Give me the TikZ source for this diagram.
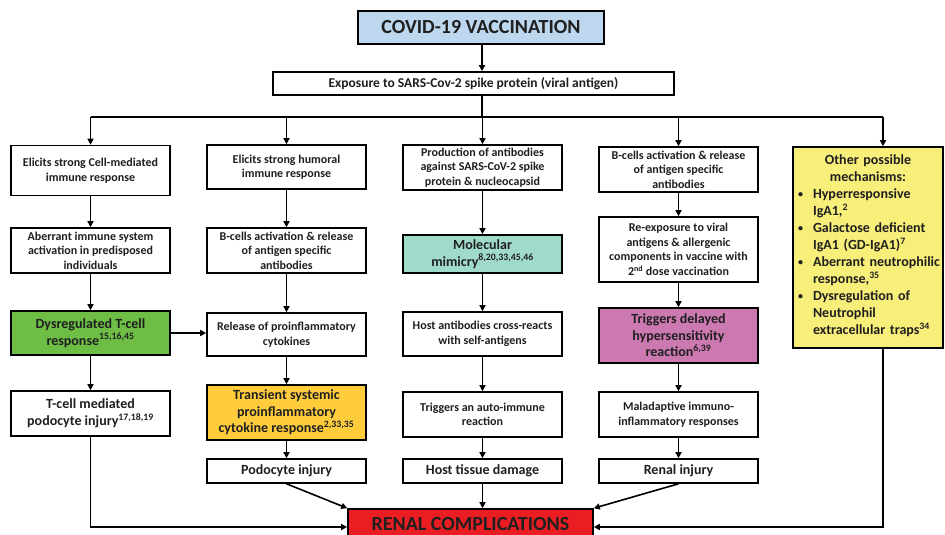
\documentclass[tikz,border=0pt]{standalone}
\usepackage{fontspec}
\setmainfont{Carlito}
\usetikzlibrary{arrows.meta}
\definecolor{titleblue}{RGB}{189,215,238}
\definecolor{tgreen}{RGB}{110,190,70}
\definecolor{tgold}{RGB}{255,205,60}
\definecolor{tteal}{RGB}{160,218,203}
\definecolor{tpink}{RGB}{204,121,178}
\definecolor{tyellow}{RGB}{248,238,122}
\definecolor{tred}{RGB}{234,30,34}
\newcommand{\rf}[1]{\textsuperscript{#1}}
\newcommand{\bul}{\raisebox{1pt}{\fontsize{10}{10}\selectfont\textbullet}}
\begin{document}
\begin{tikzpicture}[x=1pt,y=-1pt,
  box/.style={draw=black, line width=1.6pt, fill=white, align=center, inner sep=1pt,
    text=black!88, font=\bfseries\fontsize{12}{14.5}\selectfont, minimum width=159pt},
  big/.style={font=\bfseries\fontsize{14}{16.5}\selectfont},
  conn/.style={line width=1.6pt, -{Triangle[length=6pt,width=6pt]}},
  plain/.style={line width=1.6pt}]
\clip (0,0) rectangle (945,535);
\fill[white] (0,0) rectangle (945,535);

% top
\node[box, fill=titleblue, minimum width=246pt, minimum height=33pt,
  font=\bfseries\fontsize{20}{24}\selectfont] (title) at (481,27.5) {COVID-19 VACCINATION};
\node[box, minimum width=401pt, minimum height=23pt,
  font=\bfseries\fontsize{13.5}{16}\selectfont] (expo) at (473.5,83.5)
  {Exposure to SARS-Cov-2 spike protein (viral antigen)};

% column 1
\node[box, minimum height=50pt] (b1a) at (90.5,170.5) {Elicits strong Cell-mediated\\immune response};
\node[box, minimum height=45pt] (b1b) at (90.5,250.5) {Aberrant immune system\\activation in predisposed\\individuals};
\node[box, big, fill=tgreen, minimum height=44pt] (b1c) at (90.5,333) {Dysregulated T-cell\\response\rf{15,16,45}};
\node[box, big, minimum height=45pt] (b1d) at (90.5,413.5) {T-cell mediated\\podocyte injury\rf{17,18,19}};

% column 2
\node[box, minimum height=44pt] (b2a) at (286.5,167) {Elicits strong humoral\\immune response};
\node[box, minimum height=45pt] (b2b) at (286.5,250.5) {B-cells activation \& release\\of antigen specific\\antibodies};
\node[box, minimum height=43pt] (b2c) at (286.5,334.5) {Release of proinflammatory\\cytokines};
\node[box, big, fill=tgold, minimum height=55pt] (b2d) at (286.5,412.5) {Transient systemic\\proinflammatory\\cytokine response\rf{2,33,35}};
\node[box, big, minimum height=24pt] (b2e) at (286.5,471) {Podocyte injury};

% column 3
\node[box, minimum height=45pt] (b3a) at (482.5,167.5) {Production of antibodies\\against SARS-CoV-2 spike\\protein \& nucleocapsid};
\node[box, big, fill=tteal, minimum height=38pt] (b3b) at (482.5,254) {Molecular\\mimicry\rf{8,20,33,45,46}};
\node[box, minimum height=44pt] (b3c) at (482.5,334) {Host antibodies cross-reacts\\with self-antigens};
\node[box, minimum height=45pt] (b3d) at (482.5,414.5) {Triggers an auto-immune\\reaction};
\node[box, big, minimum height=24pt] (b3e) at (482.5,471) {Host tissue damage};

% column 4
\node[box, minimum height=45pt] (b4a) at (678.5,169.5) {B-cells activation \& release\\of antigen specific\\antibodies};
\node[box, minimum height=65pt] (b4b) at (678.5,249.5) {Re-exposure to viral\\antigens \& allergenic\\components in vaccine with\\2\rf{nd} dose vaccination};
\node[box, big, fill=tpink, minimum height=55pt] (b4c) at (678.5,335.5) {Triggers delayed\\hypersensitivity\\reaction\rf{6,39}};
\node[box, minimum height=45pt] (b4d) at (678.5,414.5) {Maladaptive immuno-\\inflammatory responses};
\node[box, big, minimum height=24pt] (b4e) at (678.5,471) {Renal injury};

% column 5
\node[box, fill=tyellow, minimum width=150pt, minimum height=201pt, text width=148pt, inner xsep=0pt,
  font=\bfseries\fontsize{14}{17}\selectfont] (b5) at (868,247.5)
  {Other possible\\mechanisms:\\
   \begin{tabular}[t]{@{\hspace{2pt}}l@{\hspace{10pt}}l@{}}
   \bul & Hyperresponsive\\
        & IgA1,\rf{2}\\
   \bul & Galactose deficient\\
        & IgA1 (GD-IgA1)\rf{7}\\
   \bul & Aberrant neutrophilic\\
        & response,\rf{35}\\
   \bul & Dysregulation of\\
        & Neutrophil\\
        & extracellular traps\rf{34}
   \end{tabular}};

% bottom
\node[box, fill=tred, minimum width=245pt, minimum height=31pt,
  font=\bfseries\fontsize{20}{24}\selectfont] (renal) at (470.5,524.5) {RENAL COMPLICATIONS};

% connectors
\coordinate (hub) at (482,117);
\coordinate (r5) at (883,117);
\coordinate (yb) at (0,527);
\draw[conn] (title.south -| hub) -- (hub |- expo.north);
\draw[plain] (hub |- expo.south) -- (hub);
\draw[plain] (b1a.north |- hub) -- (r5);
\foreach \n in {b1a,b2a,b3a,b4a} \draw[conn] (\n.north |- hub) -- (\n.north);
\draw[conn] (r5) -- (r5 |- b5.north);

\draw[conn] (b1a) -- (b1b);
\draw[conn] (b1b) -- (b1c);
\draw[conn] (b1c) -- (b1d);
\draw[conn] (b1c.east) -- (b1c.east -| b2c.west);
\draw[conn] (b2a) -- (b2b);
\draw[conn] (b2b) -- (b2c);
\draw[conn] (b2c) -- (b2d);
\draw[conn] (b2d) -- (b2e);
\draw[conn] (b3a) -- (b3b);
\draw[conn] (b3b) -- (b3c);
\draw[conn] (b3c) -- (b3d);
\draw[conn] (b3d) -- (b3e);
\draw[conn] (b4a) -- (b4b);
\draw[conn] (b4b) -- (b4c);
\draw[conn] (b4c) -- (b4d);
\draw[conn] (b4d) -- (b4e);

\draw[conn] (b1d.south) -- (b1d.south |- yb) -- (renal.west |- yb);
\draw[conn] (b2e.south) -- (renal.north west);
\draw[conn] (b3e.south) -- (b3e.south |- renal.north);
\draw[conn] (b4e.south) -- (renal.north east);
\draw[conn] (r5 |- b5.south) -- (r5 |- yb) -- (renal.east |- yb);
\end{tikzpicture}
\end{document}
